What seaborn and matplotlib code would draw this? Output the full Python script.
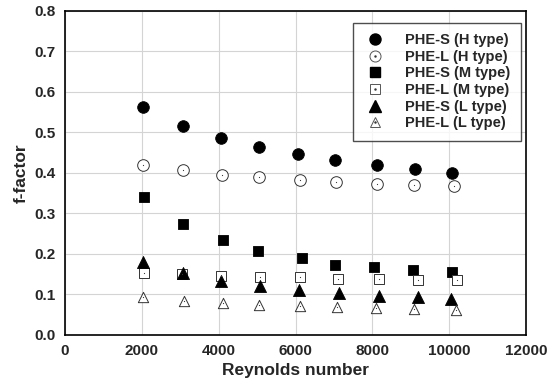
import matplotlib.pyplot as plt
import seaborn as sns
from matplotlib.legend_handler import HandlerTuple

sns.set_style('whitegrid', {'grid.color': '#d4d4d4', 'axes.edgecolor': 'black'})
plt.rcParams['font.family'] = ['Liberation Sans', 'DejaVu Sans']
plt.rcParams['font.weight'] = 'bold'

# Reynolds number and f-factor for each series
re_sh = [2036, 3060, 4060, 5040, 6060, 7030, 8120, 9100, 10070]
f_sh = [0.562, 0.515, 0.485, 0.463, 0.446, 0.432, 0.419, 0.409, 0.400]
re_lh = [2036, 3060, 4090, 5044, 6118, 7064, 8120, 9093, 10122]
f_lh = [0.420, 0.406, 0.395, 0.389, 0.383, 0.376, 0.373, 0.370, 0.366]
re_sm = [2046, 3076, 4100, 5036, 6162, 7038, 8042, 9066, 10080]
f_sm = [0.341, 0.274, 0.234, 0.207, 0.188, 0.173, 0.166, 0.160, 0.155]
re_lm = [2062, 3050, 4056, 5070, 6118, 7106, 8164, 9186, 10210]
f_lm = [0.153, 0.150, 0.145, 0.143, 0.141, 0.138, 0.137, 0.135, 0.135]
re_sl = [2036, 3060, 4056, 5078, 6084, 7132, 8164, 9186, 10054]
f_sl = [0.180, 0.151, 0.132, 0.119, 0.110, 0.103, 0.096, 0.092, 0.088]
re_ll = [2036, 3086, 4100, 5044, 6128, 7072, 8086, 9074, 10184]
f_ll = [0.093, 0.083, 0.078, 0.073, 0.070, 0.068, 0.065, 0.063, 0.061]

series = [
    ('PHE-S (H type)', re_sh, f_sh, 'o', True, 70),
    ('PHE-L (H type)', re_lh, f_lh, 'o', False, 70),
    ('PHE-S (M type)', re_sm, f_sm, 's', True, 60),
    ('PHE-L (M type)', re_lm, f_lm, 's', False, 50),
    ('PHE-S (L type)', re_sl, f_sl, '^', True, 75),
    ('PHE-L (L type)', re_ll, f_ll, '^', False, 55),
]

fig = plt.figure(figsize=(5.53, 3.89), dpi=100)
ax = fig.add_axes([65 / 553, 1 - 334.5 / 389, 461 / 553, 323.5 / 389])

handles = []
labels = []
for name, xs, ys, mk, filled, size in series:
    if filled:
        sns.scatterplot(x=xs, y=ys, marker=mk, s=size, color='black',
                        edgecolor='black', linewidth=0.6, ax=ax, zorder=3)
        h = plt.Line2D([], [], ls='none', marker=mk, color='black',
                       markersize=size ** 0.5 * 0.95)
    else:
        sns.scatterplot(x=xs, y=ys, marker=mk, s=size, facecolor='white',
                        edgecolor='#333333', linewidth=0.7, ax=ax, zorder=3)
        sns.scatterplot(x=xs, y=ys, marker='.', s=3, color='#333333',
                        linewidth=0, ax=ax, zorder=4)
        h = (plt.Line2D([], [], ls='none', marker=mk, markerfacecolor='white',
                        markeredgecolor='#555555', markeredgewidth=0.7,
                        markersize=size ** 0.5 * 0.95),
             plt.Line2D([], [], ls='none', marker='.', color='#333333',
                        markersize=1.5))
    handles.append(h)
    labels.append(name)

ax.set_xlim(0, 12000)
ax.set_ylim(0, 0.8)
ax.set_xticks(range(0, 12001, 2000))
ax.set_yticks([i / 10 for i in range(9)])
ax.set_yticklabels([f'{i / 10:.1f}' for i in range(9)])
ax.tick_params(labelsize=11, pad=3)
ax.set_xlabel('Reynolds number', fontsize=12.5, fontweight='bold', labelpad=4)
ax.set_ylabel('f-factor', fontsize=12.5, fontweight='bold', labelpad=4)
for sp in ax.spines.values():
    sp.set_linewidth(1.2)
    sp.set_color('black')

leg = ax.legend(handles, labels, handler_map={tuple: HandlerTuple(ndivide=1, pad=0)},
                loc='upper right', bbox_to_anchor=(0.989, 0.963), borderaxespad=0,
                fontsize=10.5, frameon=True, fancybox=False, edgecolor='#222222',
                handletextpad=1.3, borderpad=0.7, labelspacing=0.18,
                handlelength=1.6)
leg.get_frame().set_linewidth(1.0)

plt.savefig('out.png', dpi=100)
